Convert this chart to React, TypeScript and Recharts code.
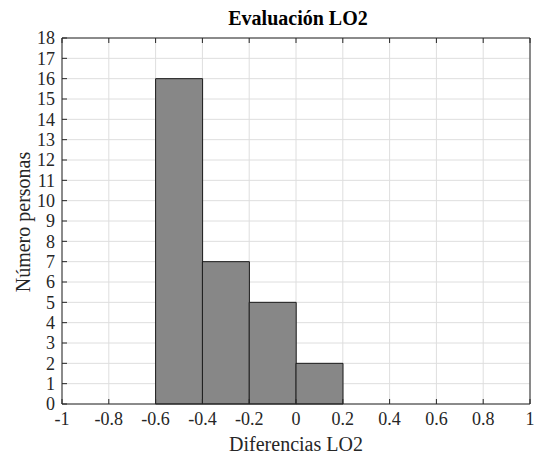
import { ComposedChart, Bar, XAxis, YAxis, CartesianGrid } from 'recharts';

// histogram bins (left edge / right edge) and counts
const binLeft = [-0.6, -0.4, -0.2, 0];
const binRight = [-0.4, -0.2, 0, 0.2];
const counts = [16, 7, 5, 2];
const xTicks = [-1, -0.8, -0.6, -0.4, -0.2, 0, 0.2, 0.4, 0.6, 0.8, 1];
const yTicks = [0, 1, 2, 3, 4, 5, 6, 7, 8, 9, 10, 11, 12, 13, 14, 15, 16, 17, 18];

const rows = counts.map((c, i) => ({ mid: (binLeft[i] + binRight[i]) / 2, count: c }));

const font = '"Liberation Serif", "Times New Roman", serif';
const axisColor = '#262626';
const tickStyle = { fill: '#262626', fontSize: 18, fontFamily: font };

export default function App() {
  return (
    <div style={{ position: 'absolute', left: 0, top: 0, width: 542, height: 456, background: '#fff', fontFamily: font }}>
      <div style={{ position: 'absolute', left: 62, width: 472, top: 7, textAlign: 'center', fontWeight: 'bold', fontSize: 20, color: '#000' }}>
        Evaluación LO2
      </div>
      <div style={{ position: 'absolute', left: 62, width: 468, top: 433, textAlign: 'center', fontSize: 20, color: '#262626' }}>
        Diferencias LO2
      </div>
      <div style={{ position: 'absolute', left: 23, top: 222, transform: 'translate(-50%, -50%) rotate(-90deg)', whiteSpace: 'nowrap', fontSize: 20, color: '#262626' }}>
        Número personas
      </div>
      <ComposedChart width={542} height={456} data={rows} barCategoryGap={0} barGap={0}
        margin={{ top: 37, right: 11, left: 12, bottom: 22 }} style={{ position: 'absolute', left: 0, top: 0 }}>
        <CartesianGrid stroke="#dedede" xAxisId="b" yAxisId="l" verticalValues={xTicks} horizontalValues={yTicks} />
        <XAxis xAxisId="b" dataKey="mid" type="number" domain={[-1, 1]} ticks={xTicks} allowDataOverflow
          height={30} stroke={axisColor} tickSize={-5} tickMargin={13} tick={tickStyle} interval={0} />
        <XAxis xAxisId="t" orientation="top" dataKey="mid" type="number" domain={[-1, 1]} ticks={xTicks} allowDataOverflow
          height={1} stroke={axisColor} tickSize={-5} tickFormatter={() => ''} interval={0} />
        <YAxis yAxisId="l" type="number" domain={[0, 18]} ticks={yTicks} width={50} stroke={axisColor}
          tickSize={-5} tickMargin={12} tick={tickStyle} interval={0} />
        <YAxis yAxisId="r" orientation="right" type="number" domain={[0, 18]} ticks={yTicks} width={1} stroke={axisColor}
          tickSize={-5} tickFormatter={() => ''} interval={0} />
        <Bar xAxisId="b" yAxisId="l" dataKey="count" fill="#878787" stroke="#1a1a1a" strokeWidth={1} isAnimationActive={false} />
      </ComposedChart>
    </div>
  );
}
